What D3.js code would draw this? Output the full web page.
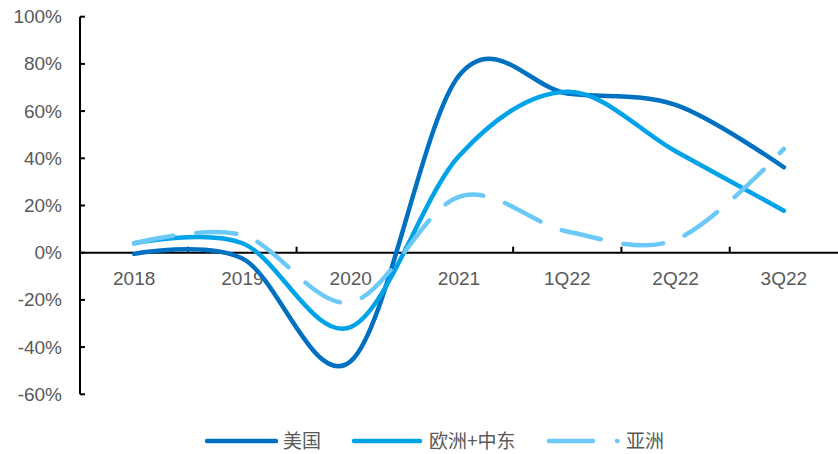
<!DOCTYPE html>
<html>
<head>
<meta charset="utf-8">
<script src="https://cdn.jsdelivr.net/npm/d3@7"></script>
<style>
html,body{margin:0;padding:0;background:#fff;}
svg{display:block;}
</style>
</head>
<body>
<svg id="chart" width="838" height="454"></svg>
<script>
const categories = ["2018","2019","2020","2021","1Q22","2Q22","3Q22"];
const usValues   = [-0.5, -2.5, -46, 75, 67.5, 62.6, 36.2];
const euValues   = [4, 4, -31.5, 41, 68.2, 43, 17.8];
const asiaValues = [4, 7.5, -21, 23.7, 9, 5.5, 44];
const yTicks = [-60, -40, -20, 0, 20, 40, 60, 80, 100];
const seriesNames = ["美国", "欧洲+中东", "亚洲"];
const seriesColors = ["#0070C0", "#00A2E8", "#6CC8F6"];

(function () {
const svg = d3.select("#chart");
const pLeft = 80, pRight = 838, pTop = 16.7, pBottom = 394.3;
const font = "'Liberation Sans', Arial, sans-serif";
const textColor = "#595959";

const x = d3.scaleBand().domain(categories).range([pLeft, pRight]).paddingInner(0).paddingOuter(0);
const y = d3.scaleLinear().domain([-60, 100]).range([pBottom, pTop]);
const cx = c => x(c) + x.bandwidth() / 2;

// Y axis
const yAxis = d3.axisLeft(y).tickValues(yTicks).tickSize(0).tickPadding(18).tickFormat(d => d + "%");
const gy = svg.append("g").attr("transform", `translate(${pLeft},0)`).call(yAxis);
gy.select(".domain").remove();
gy.selectAll("text").attr("font-family", font).attr("font-size", 19).attr("fill", textColor);
svg.append("line").attr("x1", pLeft).attr("x2", pLeft).attr("y1", pTop).attr("y2", pBottom)
  .attr("stroke", "#000").attr("stroke-width", 2);
svg.append("g").selectAll("line").data(yTicks).join("line")
  .attr("x1", pLeft).attr("x2", pLeft + 5).attr("y1", d => y(d)).attr("y2", d => y(d))
  .attr("stroke", "#000").attr("stroke-width", 2);

// X axis at zero
const y0 = y(0);
svg.append("line").attr("x1", pLeft).attr("x2", pRight).attr("y1", y0).attr("y2", y0)
  .attr("stroke", "#000").attr("stroke-width", 2);
svg.append("g").selectAll("line").data(categories.slice(1)).join("line")
  .attr("x1", d => x(d)).attr("x2", d => x(d)).attr("y1", y0).attr("y2", y0 - 6)
  .attr("stroke", "#000").attr("stroke-width", 2);
svg.append("g").selectAll("text").data(categories).join("text")
  .attr("x", d => cx(d)).attr("y", y0 + 32)
  .attr("text-anchor", "middle").attr("font-family", font).attr("font-size", 19)
  .attr("fill", textColor).text(d => d);

// Lines
const line = d3.line().x((d, i) => cx(categories[i])).y(d => y(d)).curve(d3.curveCardinal.tension(0));
const series = [usValues, euValues, asiaValues];
const dashes = [null, null, "40 23"];
series.forEach((vals, k) => {
  svg.append("path").attr("d", line(vals)).attr("fill", "none")
    .attr("stroke", seriesColors[k]).attr("stroke-width", 4.5)
    .attr("stroke-linecap", "round").attr("stroke-linejoin", "round")
    .attr("stroke-dasharray", dashes[k]);
});

// Legend
const legendY = 441;
const legendItems = [
  {sx: 207, ex: 276, tx: 283},
  {sx: 354, ex: 420, tx: 429},
  {sx: 549, ex: 617.5, tx: 626}
];
legendItems.forEach((it, k) => {
  svg.append("line").attr("x1", it.sx).attr("x2", it.ex).attr("y1", legendY).attr("y2", legendY)
    .attr("stroke", seriesColors[k]).attr("stroke-width", 4.5).attr("stroke-linecap", "round")
    .attr("stroke-dasharray", k === 2 ? "44 24" : null);
  svg.append("text").attr("x", it.tx).attr("y", legendY + 7)
    .attr("font-family", "'Noto Sans CJK SC', 'Liberation Sans', sans-serif").attr("font-size", 19)
    .attr("fill", textColor).text(seriesNames[k]);
});
})();
</script>
</body>
</html>
